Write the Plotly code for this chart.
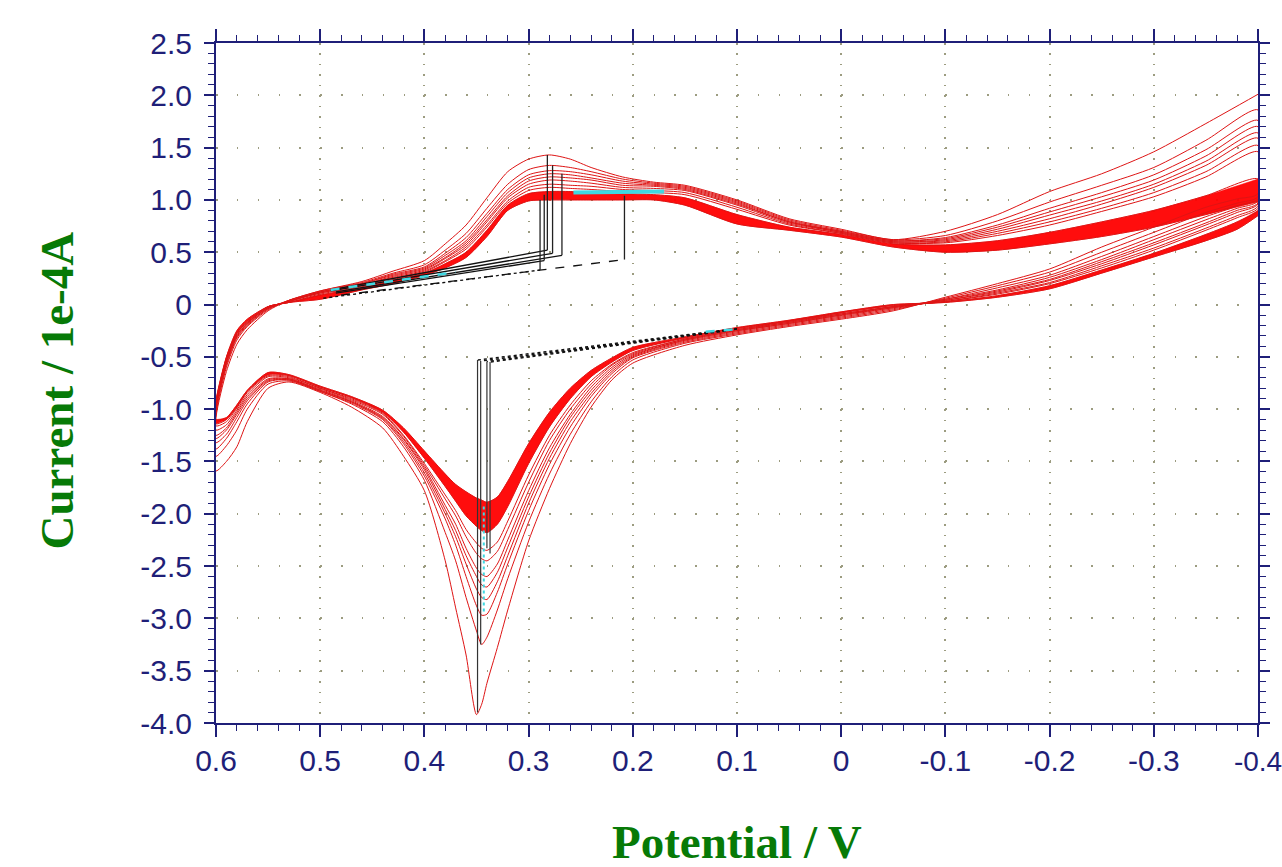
import plotly.graph_objects as go

# ---------------- data ----------------
# forward (upper) branch potentials, V : scan -0.4 -> 0.6
E_up = [-0.40, -0.35, -0.30, -0.25, -0.20, -0.15, -0.10, -0.05, 0.00, 0.05, 0.10, 0.15,
        0.18, 0.21, 0.24, 0.26, 0.28, 0.30, 0.32, 0.34, 0.36, 0.38, 0.40, 0.43, 0.46,
        0.50, 0.53, 0.55, 0.57, 0.58, 0.59, 0.60]
# reverse (lower) branch potentials, V : scan 0.6 -> -0.4
E_lo = [0.60, 0.59, 0.58, 0.57, 0.55, 0.53, 0.50, 0.47, 0.44, 0.42, 0.40, 0.38, 0.37,
        0.36, 0.35, 0.345, 0.34, 0.33, 0.32, 0.30, 0.28, 0.26, 0.24, 0.22, 0.20, 0.15,
        0.10, 0.05, 0.00, -0.05, -0.10, -0.15, -0.20, -0.25, -0.30, -0.35, -0.38, -0.40]

# currents (1e-4 A), upper branch, selected cycles
up_c1 = [2.01, 1.73, 1.46, 1.25, 1.08, 0.86, 0.70, 0.62, 0.72, 0.82, 1.00, 1.14, 1.17, 1.22, 1.31, 1.39,
         1.43, 1.39, 1.27, 1.02, 0.76, 0.58, 0.42, 0.32, 0.22, 0.13, 0.04, -0.06, -0.24, -0.38, -0.64, -1.08]
up_c2 = [1.86, 1.57, 1.31, 1.14, 0.98, 0.80, 0.66, 0.62, 0.71, 0.81, 0.99, 1.13, 1.16, 1.20, 1.27, 1.31,
         1.33, 1.29, 1.15, 0.92, 0.68, 0.52, 0.38, 0.30, 0.21, 0.13, 0.04, -0.05, -0.21, -0.34, -0.60, -1.05]
up_c3 = [1.76, 1.48, 1.24, 1.07, 0.92, 0.76, 0.64, 0.61, 0.70, 0.80, 0.98, 1.12, 1.15, 1.18, 1.24, 1.27,
         1.28, 1.24, 1.10, 0.87, 0.64, 0.49, 0.36, 0.29, 0.20, 0.12, 0.04, -0.04, -0.20, -0.32, -0.58, -1.02]
up_c4 = [1.70, 1.42, 1.19, 1.03, 0.885, 0.74, 0.63, 0.61, 0.70, 0.79, 0.97, 1.11, 1.14, 1.16, 1.21, 1.24,
         1.25, 1.21, 1.07, 0.84, 0.61, 0.47, 0.35, 0.28, 0.20, 0.12, 0.03, -0.04, -0.19, -0.31, -0.56, -1.00]
up_c5 = [1.64, 1.37, 1.15, 0.99, 0.855, 0.72, 0.62, 0.60, 0.69, 0.79, 0.96, 1.10, 1.13, 1.14, 1.19, 1.21,
         1.22, 1.18, 1.04, 0.81, 0.59, 0.45, 0.34, 0.27, 0.19, 0.12, 0.03, -0.03, -0.18, -0.30, -0.55, -0.98]
up_c6 = [1.59, 1.33, 1.12, 0.96, 0.82, 0.70, 0.61, 0.60, 0.69, 0.78, 0.95, 1.09, 1.11, 1.12, 1.16, 1.18,
         1.19, 1.15, 1.02, 0.79, 0.57, 0.44, 0.33, 0.26, 0.19, 0.11, 0.03, -0.03, -0.18, -0.29, -0.54, -0.97]
up_c8 = [1.52, 1.27, 1.07, 0.92, 0.79, 0.68, 0.60, 0.59, 0.68, 0.77, 0.93, 1.07, 1.09, 1.10, 1.13, 1.14,
         1.15, 1.12, 0.99, 0.76, 0.55, 0.42, 0.32, 0.25, 0.18, 0.11, 0.03, -0.03, -0.17, -0.28, -0.53, -0.96]
up_c10 = [1.46, 1.22, 1.03, 0.89, 0.76, 0.66, 0.59, 0.59, 0.68, 0.76, 0.91, 1.05, 1.07, 1.08, 1.10, 1.11,
          1.12, 1.09, 0.97, 0.74, 0.53, 0.41, 0.31, 0.24, 0.17, 0.10, 0.02, -0.02, -0.17, -0.27, -0.52, -0.94]
up_c16 = [1.20, 1.04, 0.90, 0.79, 0.69, 0.61, 0.57, 0.58, 0.67, 0.74, 0.86, 1.02, 1.05, 1.06, 1.07, 1.08,
          1.08, 1.06, 0.95, 0.71, 0.50, 0.39, 0.30, 0.23, 0.16, 0.09, 0.02, -0.02, -0.16, -0.27, -0.51, -0.93]
up_cL = [0.98, 0.86, 0.74, 0.65, 0.58, 0.52, 0.50, 0.55, 0.645, 0.71, 0.77, 0.95, 1.00, 1.00, 1.00, 1.00,
         1.00, 0.99, 0.90, 0.65, 0.45, 0.35, 0.28, 0.20, 0.14, 0.05, 0.02, -0.02, -0.14, -0.25, -0.50, -0.92]

# currents (1e-4 A), lower branch, selected cycles
lo_c1 = [-1.59, -1.50, -1.36, -1.12, -0.80, -0.74, -0.84, -0.98, -1.18, -1.45, -1.78, -2.45, -2.90,
         -3.35, -3.92, -3.82, -3.62, -3.28, -2.92, -2.26, -1.76, -1.33, -0.98, -0.72, -0.56, -0.39,
         -0.29, -0.21, -0.14, -0.06, 0.07, 0.20, 0.34, 0.55, 0.74, 0.93, 1.01, 1.06]
lo_c2 = [-1.45, -1.35, -1.20, -1.00, -0.76, -0.73, -0.83, -0.95, -1.12, -1.36, -1.68, -2.18, -2.45,
         -2.80, -3.12, -3.25, -3.18, -2.92, -2.62, -2.08, -1.62, -1.24, -0.93, -0.69, -0.53, -0.37,
         -0.28, -0.20, -0.13, -0.05, 0.06, 0.18, 0.31, 0.50, 0.69, 0.88, 0.97, 1.03]
lo_c3 = [-1.38, -1.28, -1.12, -0.95, -0.74, -0.72, -0.83, -0.94, -1.10, -1.33, -1.64, -2.05, -2.30,
         -2.60, -2.88, -2.97, -2.96, -2.75, -2.48, -1.97, -1.53, -1.17, -0.88, -0.66, -0.51, -0.36,
         -0.27, -0.19, -0.12, -0.04, 0.05, 0.16, 0.28, 0.46, 0.65, 0.84, 0.94, 1.01]
lo_c4 = [-1.32, -1.24, -1.08, -0.92, -0.73, -0.72, -0.82, -0.93, -1.09, -1.31, -1.61, -2.00, -2.22,
         -2.48, -2.72, -2.80, -2.82, -2.65, -2.40, -1.90, -1.47, -1.12, -0.85, -0.64, -0.50, -0.35,
         -0.26, -0.18, -0.11, -0.03, 0.05, 0.14, 0.26, 0.43, 0.62, 0.81, 0.92, 0.99]
lo_c5 = [-1.28, -1.20, -1.05, -0.90, -0.72, -0.71, -0.82, -0.93, -1.08, -1.29, -1.58, -1.96, -2.16,
         -2.40, -2.60, -2.68, -2.70, -2.56, -2.32, -1.84, -1.42, -1.08, -0.82, -0.62, -0.49, -0.34,
         -0.25, -0.18, -0.10, -0.03, 0.04, 0.13, 0.24, 0.41, 0.59, 0.78, 0.90, 0.97]
lo_c6 = [-1.25, -1.18, -1.03, -0.88, -0.71, -0.71, -0.81, -0.92, -1.07, -1.28, -1.56, -1.92, -2.10,
         -2.33, -2.52, -2.58, -2.60, -2.48, -2.25, -1.78, -1.37, -1.05, -0.79, -0.60, -0.48, -0.34,
         -0.25, -0.17, -0.10, -0.02, 0.04, 0.12, 0.23, 0.39, 0.57, 0.76, 0.88, 0.96]
lo_c8 = [-1.20, -1.15, -1.01, -0.86, -0.69, -0.70, -0.80, -0.91, -1.05, -1.26, -1.54, -1.86, -2.02,
         -2.22, -2.38, -2.43, -2.45, -2.36, -2.15, -1.70, -1.30, -1.00, -0.76, -0.58, -0.47, -0.33,
         -0.24, -0.17, -0.09, -0.02, 0.03, 0.11, 0.21, 0.37, 0.54, 0.73, 0.85, 0.94]
lo_c10 = [-1.16, -1.12, -0.99, -0.84, -0.68, -0.69, -0.80, -0.90, -1.04, -1.25, -1.52, -1.82, -1.97,
          -2.15, -2.28, -2.33, -2.35, -2.27, -2.07, -1.63, -1.25, -0.96, -0.73, -0.57, -0.46, -0.33,
          -0.24, -0.16, -0.09, -0.02, 0.03, 0.10, 0.20, 0.35, 0.52, 0.71, 0.83, 0.92]
lo_c16 = [-1.14, -1.10, -0.98, -0.83, -0.67, -0.68, -0.79, -0.89, -1.03, -1.22, -1.47, -1.74, -1.88,
          -2.02, -2.12, -2.16, -2.18, -2.10, -1.93, -1.52, -1.17, -0.90, -0.69, -0.55, -0.44, -0.32,
          -0.23, -0.16, -0.08, -0.01, 0.025, 0.085, 0.18, 0.33, 0.49, 0.67, 0.79, 0.90]
lo_cL = [-1.10, -1.08, -0.96, -0.82, -0.65, -0.67, -0.78, -0.88, -1.01, -1.18, -1.40, -1.62, -1.72,
         -1.79, -1.85, -1.87, -1.89, -1.84, -1.69, -1.33, -1.03, -0.80, -0.63, -0.51, -0.41, -0.31,
         -0.22, -0.15, -0.07, 0.00, 0.02, 0.07, 0.15, 0.30, 0.455, 0.61, 0.72, 0.85]

# peak-analysis annotation lines (baseline start -> baseline at peak -> peak)
ox_peak_E = [0.282, 0.277, 0.268, 0.285, 0.208, 0.289]
ox_peak_I = [1.43, 1.33, 1.25, 1.05, 1.04, 1.00]
ox_base_E0 = [0.490, 0.490, 0.485, 0.485, 0.480, 0.497]
ox_base_I0 = [0.14, 0.13, 0.12, 0.11, 0.09, 0.06]
ox_base_I1 = [0.52, 0.49, 0.47, 0.42, 0.43, 0.33]
ox_dash = ["solid", "solid", "solid", "solid", "dash", "dot"]

red_peak_E = [0.349, 0.346, 0.340, 0.337]
red_peak_I = [-3.90, -3.25, -2.33, -2.38]
red_base_E0 = [0.100, 0.100, 0.105, 0.105]
red_base_I0 = [-0.23, -0.235, -0.24, -0.245]
red_base_I1 = [-0.53, -0.54, -0.545, -0.55]

cyan_ox_top_E = [0.257, 0.170]
cyan_ox_top_I = [1.07, 1.08]
cyan_ox_base_E = [0.490, 0.370]
cyan_ox_base_I = [0.14, 0.31]
cyan_red_pk_E = [0.343, 0.343]
cyan_red_pk_I = [-1.93, -2.95]
cyan_red_base_E = [0.130, 0.100]
cyan_red_base_I = [-0.26, -0.235]

x_tick_vals = [0.6, 0.5, 0.4, 0.3, 0.2, 0.1, 0.0, -0.1, -0.2, -0.3, -0.4]
x_tick_text = ["0.6", "0.5", "0.4", "0.3", "0.2", "0.1", "0", "-0.1", "-0.2", "-0.3",
               "<span style='font-size:28px'>-0.4</span>"]
y_tick_vals = [2.5, 2.0, 1.5, 1.0, 0.5, 0.0, -0.5, -1.0, -1.5, -2.0, -2.5, -3.0, -3.5, -4.0]
y_tick_text = ["2.5", "2.0", "1.5", "1.0", "0.5", "0", "-0.5", "-1.0", "-1.5", "-2.0", "-2.5",
               "-3.0", "-3.5", "-4.0"]

# ---------------- figure ----------------
cycles = [(up_c1, lo_c1), (up_c2, lo_c2), (up_c3, lo_c3), (up_c4, lo_c4), (up_c5, lo_c5),
          (up_c6, lo_c6), (up_c8, lo_c8), (up_c10, lo_c10), (up_c16, lo_c16), (up_cL, lo_cL)]

RED_LINE = "rgb(222,20,20)"
BAND = "rgba(255,0,0,0.95)"
SPL = dict(shape="spline", smoothing=0.7)

fig = go.Figure()

# dense band of the later cycles
for E, a, b in [(E_up, up_cL, up_c16), (E_lo, lo_cL, lo_c16)]:
    fig.add_trace(go.Scatter(x=E, y=a, mode="lines", line=dict(width=0.5, color=BAND, **SPL),
                             hoverinfo="skip", showlegend=False))
    fig.add_trace(go.Scatter(x=E, y=b, mode="lines", line=dict(width=0.5, color=BAND, **SPL),
                             fill="tonexty", fillcolor=BAND, hoverinfo="skip", showlegend=False))

# all cycles as one continuous scan
all_E, all_I = [], []
for up, lo in cycles:
    all_E += E_up + E_lo
    all_I += up + lo
fig.add_trace(go.Scatter(x=all_E, y=all_I, mode="lines",
                         line=dict(color=RED_LINE, width=1, **SPL),
                         hoverinfo="skip", showlegend=False))

# peak baselines / verticals (black)
for e0, i0, i1, ep, ip, d in zip(ox_base_E0, ox_base_I0, ox_base_I1, ox_peak_E, ox_peak_I, ox_dash):
    fig.add_trace(go.Scatter(x=[e0, ep], y=[i0, i1], mode="lines",
                             line=dict(color="#111111", width=1.3, dash=d),
                             hoverinfo="skip", showlegend=False))
    fig.add_trace(go.Scatter(x=[ep, ep], y=[i1, ip], mode="lines",
                             line=dict(color="#222222", width=1.3),
                             hoverinfo="skip", showlegend=False))
for e0, i0, i1, ep, ip in zip(red_base_E0, red_base_I0, red_base_I1, red_peak_E, red_peak_I):
    fig.add_trace(go.Scatter(x=[e0, ep], y=[i0, i1], mode="lines",
                             line=dict(color="#111111", width=1.4, dash="dot"),
                             hoverinfo="skip", showlegend=False))
    fig.add_trace(go.Scatter(x=[ep, ep], y=[i1, ip], mode="lines",
                             line=dict(color="#333333", width=1.2),
                             hoverinfo="skip", showlegend=False))

# cyan peak markers
for ex, iy, w, d in [(cyan_ox_top_E, cyan_ox_top_I, 4, "solid"),
                     (cyan_ox_base_E, cyan_ox_base_I, 2.5, "dash"),
                     (cyan_red_pk_E, cyan_red_pk_I, 2, "dot"),
                     (cyan_red_base_E, cyan_red_base_I, 2.5, "dash")]:
    fig.add_trace(go.Scatter(x=ex, y=iy, mode="lines",
                             line=dict(color="rgb(64,215,225)", width=w, dash=d),
                             hoverinfo="skip", showlegend=False))

AXC = "#1f1f78"
TICKFONT = dict(family="Liberation Sans, Arial, sans-serif", size=30, color=AXC)

fig.update_xaxes(range=[0.6, -0.4], tickvals=x_tick_vals, ticktext=x_tick_text,
                 ticks="outside", ticklen=12, tickwidth=1.5, tickcolor=AXC,
                 minor=dict(dtick=0.02, tick0=0, ticks="outside", ticklen=6, tickcolor=AXC,
                            tickwidth=1.2, showgrid=False),
                 showline=True, linecolor=AXC, linewidth=2, mirror="ticks",
                 showgrid=True, gridcolor="#9c9c80", gridwidth=1.5, griddash="1.5px,8.96px",
                 zeroline=False, tickfont=TICKFONT, ticklabelstandoff=-2, automargin=False,
                 ticklabeloverflow="allow")
fig.update_yaxes(range=[-4.0, 2.5], tickvals=y_tick_vals, ticktext=y_tick_text,
                 ticks="outside", ticklen=10, tickwidth=1.5, tickcolor=AXC,
                 minor=dict(dtick=0.1, tick0=0, ticks="outside", ticklen=6, tickcolor=AXC,
                            tickwidth=1.2, showgrid=False),
                 showline=True, linecolor=AXC, linewidth=2, mirror="ticks",
                 showgrid=True, gridcolor="#9c9c80", gridwidth=1.5, griddash="1.5px,19.34px",
                 zeroline=False, tickfont=TICKFONT, ticklabelstandoff=6, automargin=False,
                 ticklabeloverflow="allow")

TITLEFONT = dict(family="Liberation Serif, Times New Roman, serif", size=47, color="#077a07")
fig.update_layout(
    width=1282, height=867,
    margin=dict(l=216, r=24, t=43, b=144),
    paper_bgcolor="white", plot_bgcolor="white",
    showlegend=False,
    annotations=[
        dict(text="<b>Potential / V</b>", xref="paper", yref="paper", x=0.5, y=-0.175,
             xanchor="center", yanchor="middle", showarrow=False, font=TITLEFONT),
        dict(text="<b>Current / 1e-4A</b>", xref="paper", yref="paper", x=-0.1526, y=0.489,
             xanchor="center", yanchor="middle", textangle=-90, showarrow=False, font=TITLEFONT),
    ],
)

# remove the default page margin so the figure fills the window exactly
fig.write_html("out.html",
               config={"displayModeBar": False},
               post_script="document.body.style.margin='0px';"
                           "document.body.style.overflow='hidden';")
